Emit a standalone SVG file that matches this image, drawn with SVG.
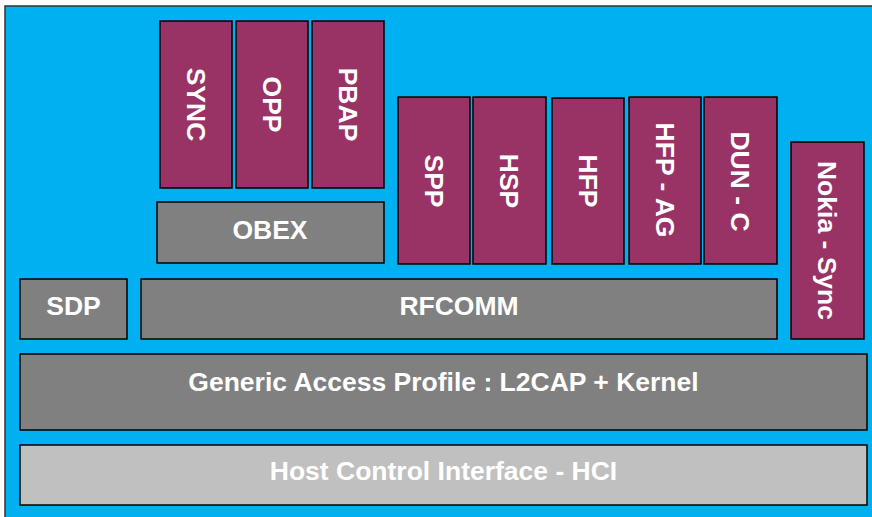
<svg xmlns="http://www.w3.org/2000/svg" width="872" height="517" viewBox="0 0 872 517">
  <style>
    .bg { fill: #00B0F0; stroke: #333333; stroke-width: 1.5; }
    .prof { fill: #993366; stroke: #000000; stroke-width: 1.5; }
    .layer { fill: #808080; stroke: #000000; stroke-width: 1.5; }
    .hci { fill: #C0C0C0; stroke: #000000; stroke-width: 1.5; }
    text { font-family: "Liberation Sans", Arial, sans-serif; font-weight: bold; font-size: 26.5px; fill: #FFFFFF; text-anchor: middle; }
  </style>
  <rect width="872" height="517" fill="#FFFFFF"/>
  <rect class="bg" x="5" y="6" width="880" height="520"/>

  <g id="SYNC"><rect class="prof" x="160" y="21" width="72" height="167"/><text transform="translate(196,104.5) rotate(90)" y="9.5">SYNC</text></g>
  <g id="OPP"><rect class="prof" x="236" y="21" width="72" height="167"/><text transform="translate(272,104.5) rotate(90)" y="9.5">OPP</text></g>
  <g id="PBAP"><rect class="prof" x="312" y="21" width="72" height="167"/><text transform="translate(348,104.5) rotate(90)" y="9.5">PBAP</text></g>
  <g id="OBEX"><rect class="layer" x="157" y="202" width="227" height="61"/><text x="270" y="239">OBEX</text></g>

  <g id="SPP"><rect class="prof" x="398" y="97" width="72" height="167"/><text transform="translate(434,181) rotate(90)" y="9.5">SPP</text></g>
  <g id="HSP"><rect class="prof" x="473" y="97" width="73" height="167"/><text transform="translate(509.5,181) rotate(90)" y="9.5">HSP</text></g>
  <g id="HFP"><rect class="prof" x="552" y="98" width="72" height="166"/><text transform="translate(588,181) rotate(90)" y="9.5">HFP</text></g>
  <g id="HFP-AG"><rect class="prof" x="629" y="97" width="72" height="167"/><text transform="translate(665,180) rotate(90)" y="9.5">HFP - AG</text></g>
  <g id="DUN-C"><rect class="prof" x="704" y="97" width="73" height="167"/><text transform="translate(740.5,181.5) rotate(90)" y="9.5">DUN - C</text></g>
  <g id="Nokia-Sync"><rect class="prof" x="791" y="142" width="73" height="197"/><text transform="translate(827.5,240.5) rotate(90)" y="9.5">Nokia - Sync</text></g>

  <g id="SDP"><rect class="layer" x="20" y="279" width="107" height="60"/><text x="73.5" y="315">SDP</text></g>
  <g id="RFCOMM"><rect class="layer" x="141" y="279" width="636" height="60"/><text x="459" y="315">RFCOMM</text></g>
  <g id="GAP"><rect class="layer" x="20" y="354" width="847" height="76"/><text x="443.5" y="391">Generic Access Profile : L2CAP + Kernel</text></g>
  <g id="HCI"><rect class="hci" x="20" y="445" width="847" height="60"/><text x="443.5" y="480">Host Control Interface - HCI</text></g>

  <g id="connectors"></g>
</svg>
